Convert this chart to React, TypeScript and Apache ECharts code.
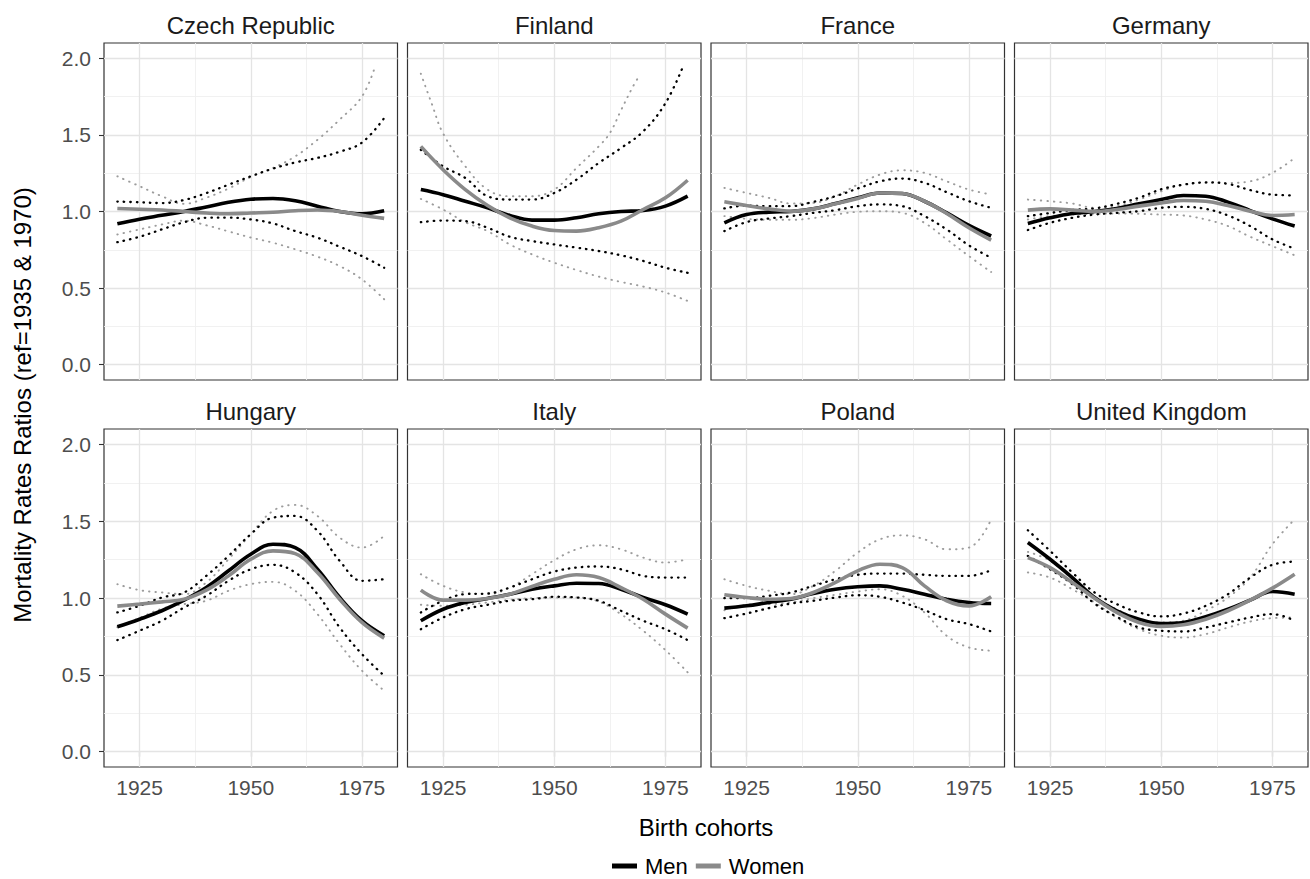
import React, { useEffect, useRef } from 'react';
import * as echarts from 'echarts';

// ---------- data ----------
const YEARS = [1920, 1925, 1930, 1935, 1940, 1945, 1950, 1955, 1960, 1965, 1970, 1975, 1980];
const COUNTRIES = ['Czech Republic', 'Finland', 'France', 'Germany', 'Hungary', 'Italy', 'Poland', 'United Kingdom'];

const X_MAJOR = [1925, 1950, 1975];
const X_MINOR = [1937.5, 1962.5];
const Y_MAJOR = [0, 0.5, 1, 1.5, 2];
const Y_MINOR = [0.25, 0.75, 1.25, 1.75];

// Czech Republic
const CZ_MEN = [0.92, 0.95, 0.975, 1.0, 1.03, 1.06, 1.08, 1.085, 1.07, 1.035, 1.0, 0.985, 1.005];
const CZ_WOMEN = [1.02, 1.015, 1.01, 1.0, 0.99, 0.985, 0.99, 0.995, 1.005, 1.01, 1.0, 0.975, 0.955];
const CZ_MEN_HI = [1.065, 1.06, 1.055, 1.075, 1.12, 1.175, 1.23, 1.28, 1.32, 1.35, 1.39, 1.45, 1.61];
const CZ_MEN_LO = [0.8, 0.835, 0.883, 0.93, 0.959, 0.96, 0.948, 0.922, 0.872, 0.829, 0.77, 0.709, 0.633];
const CZ_WOMEN_HI_YEARS = [1920, 1925, 1930, 1935, 1940, 1945, 1950, 1955, 1960, 1965, 1970, 1975, 1978];
const CZ_WOMEN_HI = [1.23, 1.165, 1.1, 1.05, 1.09, 1.15, 1.225, 1.284, 1.36, 1.468, 1.6, 1.75, 1.95];
const CZ_WOMEN_LO = [0.85, 0.883, 0.915, 0.94, 0.91, 0.87, 0.83, 0.796, 0.753, 0.705, 0.644, 0.557, 0.427];

// Finland
const FI_MEN = [1.143, 1.11, 1.067, 1.024, 0.974, 0.944, 0.944, 0.959, 0.985, 1.0, 1.006, 1.035, 1.1];
const FI_WOMEN = [1.425, 1.273, 1.143, 1.039, 0.959, 0.905, 0.876, 0.872, 0.894, 0.937, 1.013, 1.089, 1.204];
const FI_MEN_HI_YEARS = [1920, 1925, 1930, 1935, 1940, 1945, 1950, 1955, 1960, 1965, 1970, 1975, 1979];
const FI_MEN_HI = [1.403, 1.295, 1.219, 1.1, 1.078, 1.078, 1.121, 1.208, 1.317, 1.414, 1.523, 1.707, 1.95];
const FI_MEN_LO = [0.93, 0.941, 0.937, 0.894, 0.835, 0.807, 0.785, 0.764, 0.742, 0.714, 0.677, 0.633, 0.6];
const FI_WOMEN_HI_YEARS = [1920, 1922.5, 1925, 1930, 1935, 1940, 1945, 1950, 1955, 1960, 1962.5, 1965, 1967.5, 1969];
const FI_WOMEN_HI = [1.9, 1.7, 1.51, 1.295, 1.143, 1.1, 1.1, 1.143, 1.284, 1.425, 1.512, 1.66, 1.805, 1.88];
const FI_WOMEN_LO = [1.082, 1.013, 0.93, 0.872, 0.785, 0.72, 0.666, 0.618, 0.575, 0.54, 0.51, 0.471, 0.416];

// France
const FR_MEN = [0.926, 0.98, 0.996, 1.0, 1.017, 1.052, 1.089, 1.121, 1.117, 1.067, 0.991, 0.909, 0.84];
const FR_WOMEN = [1.063, 1.039, 1.017, 1.002, 1.017, 1.05, 1.085, 1.121, 1.117, 1.067, 0.987, 0.894, 0.813];
const FR_MEN_HI = [1.02, 1.039, 1.035, 1.035, 1.063, 1.1, 1.15, 1.197, 1.215, 1.187, 1.126, 1.067, 1.024];
const FR_MEN_LO = [0.872, 0.931, 0.954, 0.97, 0.991, 1.009, 1.035, 1.046, 1.035, 0.97, 0.883, 0.779, 0.698];
const FR_WOMEN_HI = [1.154, 1.121, 1.089, 1.052, 1.056, 1.1, 1.176, 1.241, 1.269, 1.252, 1.197, 1.143, 1.111];
const FR_WOMEN_LO = [0.97, 0.952, 0.946, 0.946, 0.957, 0.98, 0.998, 1.002, 0.991, 0.926, 0.818, 0.709, 0.605];

// Germany
const DE_MEN = [0.922, 0.959, 0.987, 1.0, 1.02, 1.05, 1.078, 1.104, 1.1, 1.061, 1.006, 0.952, 0.905];
const DE_WOMEN = [1.009, 1.017, 1.009, 1.0, 1.013, 1.035, 1.056, 1.072, 1.067, 1.039, 1.002, 0.974, 0.98];
const DE_MEN_HI = [0.97, 0.99, 1.01, 1.02, 1.05, 1.09, 1.145, 1.175, 1.19, 1.18, 1.14, 1.11, 1.105];
const DE_MEN_LO = [0.879, 0.926, 0.959, 0.98, 0.991, 1.002, 1.024, 1.03, 1.017, 0.974, 0.905, 0.818, 0.757];
const DE_WOMEN_HI = [1.078, 1.067, 1.052, 1.024, 1.035, 1.078, 1.132, 1.176, 1.187, 1.187, 1.197, 1.252, 1.349];
const DE_WOMEN_LO = [0.948, 0.97, 0.98, 0.985, 0.987, 0.985, 0.98, 0.974, 0.948, 0.905, 0.835, 0.774, 0.714];

// Hungary
const HU_MEN = [0.813, 0.862, 0.917, 0.986, 1.068, 1.177, 1.285, 1.35, 1.328, 1.187, 1.003, 0.852, 0.754];
const HU_WOMEN = [0.947, 0.96, 0.975, 0.992, 1.051, 1.144, 1.252, 1.307, 1.289, 1.166, 0.992, 0.841, 0.739];
const HU_MEN_HI = [0.906, 0.949, 1.003, 1.036, 1.144, 1.274, 1.415, 1.523, 1.534, 1.437, 1.242, 1.112, 1.122];
const HU_MEN_LO = [0.726, 0.787, 0.852, 0.938, 1.014, 1.112, 1.187, 1.216, 1.166, 1.025, 0.808, 0.635, 0.494];
const HU_WOMEN_HI = [1.09, 1.051, 1.036, 1.025, 1.101, 1.252, 1.415, 1.567, 1.606, 1.534, 1.393, 1.328, 1.404];
const HU_WOMEN_LO = [0.81, 0.87, 0.93, 0.96, 0.982, 1.047, 1.09, 1.105, 1.047, 0.895, 0.7, 0.527, 0.397];

// Italy
const IT_MEN = [0.852, 0.927, 0.971, 0.997, 1.025, 1.057, 1.079, 1.096, 1.094, 1.057, 1.003, 0.956, 0.895];
const IT_WOMEN = [1.051, 0.986, 0.986, 0.997, 1.025, 1.075, 1.122, 1.151, 1.133, 1.068, 0.992, 0.895, 0.804];
const IT_MEN_HI = [0.906, 0.982, 1.025, 1.029, 1.068, 1.122, 1.172, 1.198, 1.205, 1.187, 1.144, 1.133, 1.133];
const IT_MEN_LO = [0.797, 0.873, 0.927, 0.956, 0.982, 0.992, 1.008, 1.003, 0.982, 0.917, 0.852, 0.797, 0.726];
const IT_WOMEN_HI = [1.155, 1.079, 1.036, 1.025, 1.068, 1.155, 1.246, 1.317, 1.343, 1.317, 1.263, 1.231, 1.252];
const IT_WOMEN_LO = [0.956, 0.949, 0.956, 0.971, 0.988, 0.999, 1.003, 1.003, 0.977, 0.895, 0.787, 0.661, 0.516];

// Poland
const PL_MEN = [0.934, 0.949, 0.971, 0.992, 1.029, 1.057, 1.073, 1.079, 1.057, 1.025, 0.992, 0.971, 0.964];
const PL_WOMEN = [1.021, 1.003, 0.992, 0.997, 1.036, 1.101, 1.177, 1.22, 1.198, 1.079, 0.982, 0.949, 1.008];
const PL_MEN_HI = [0.999, 0.999, 1.014, 1.036, 1.079, 1.122, 1.151, 1.159, 1.159, 1.151, 1.144, 1.144, 1.181];
const PL_MEN_LO = [0.869, 0.899, 0.934, 0.964, 0.982, 1.003, 1.018, 1.008, 0.971, 0.921, 0.862, 0.83, 0.782];
const PL_WOMEN_HI = [1.122, 1.079, 1.047, 1.025, 1.079, 1.177, 1.296, 1.382, 1.408, 1.382, 1.317, 1.328, 1.512];
const PL_WOMEN_LO = [0.92, 0.956, 0.96, 0.971, 0.999, 1.021, 1.042, 1.057, 1.014, 0.906, 0.754, 0.678, 0.657];

// United Kingdom
const UK_MEN = [1.361, 1.252, 1.133, 1.003, 0.917, 0.862, 0.834, 0.841, 0.878, 0.927, 0.986, 1.042, 1.025];
const UK_WOMEN = [1.263, 1.198, 1.101, 0.999, 0.906, 0.841, 0.815, 0.826, 0.862, 0.917, 0.986, 1.064, 1.155];
const UK_MEN_HI = [1.441, 1.307, 1.166, 1.036, 0.96, 0.906, 0.88, 0.899, 0.949, 1.025, 1.133, 1.216, 1.237];
const UK_MEN_LO = [1.274, 1.187, 1.09, 0.964, 0.878, 0.808, 0.787, 0.782, 0.808, 0.841, 0.873, 0.895, 0.852];
const UK_WOMEN_HI = [1.3, 1.242, 1.122, 1.003, 0.927, 0.862, 0.841, 0.852, 0.917, 1.003, 1.133, 1.35, 1.512];
const UK_WOMEN_LO = [1.166, 1.133, 1.057, 0.971, 0.873, 0.797, 0.754, 0.743, 0.765, 0.808, 0.847, 0.869, 0.873];

// ---------- layout / style ----------
const FONT = "'Liberation Sans', Arial, Helvetica, sans-serif";
const COL_LEFT = [104, 407.5, 711, 1014.5];
const PANEL_W = 293.5;
const ROW_TOP = [43, 429];
const PANEL_H = [337, 338];
const X_MIN = 1917;
const X_MAX = 1983;
const Y_MIN = -0.1;
const Y_MAX = 2.1;

const MEN_COLOR = '#000000';
const WOMEN_COLOR = '#8a8a8a';
const WOMEN_CI_COLOR = '#9c9c9c';

type Panel = {
  men: number[]; women: number[];
  menHi: number[]; menHiYears?: number[];
  menLo: number[];
  womenHi: number[]; womenHiYears?: number[];
  womenLo: number[];
};

const PANELS: Panel[] = [
  { men: CZ_MEN, women: CZ_WOMEN, menHi: CZ_MEN_HI, menLo: CZ_MEN_LO, womenHi: CZ_WOMEN_HI, womenHiYears: CZ_WOMEN_HI_YEARS, womenLo: CZ_WOMEN_LO },
  { men: FI_MEN, women: FI_WOMEN, menHi: FI_MEN_HI, menHiYears: FI_MEN_HI_YEARS, menLo: FI_MEN_LO, womenHi: FI_WOMEN_HI, womenHiYears: FI_WOMEN_HI_YEARS, womenLo: FI_WOMEN_LO },
  { men: FR_MEN, women: FR_WOMEN, menHi: FR_MEN_HI, menLo: FR_MEN_LO, womenHi: FR_WOMEN_HI, womenLo: FR_WOMEN_LO },
  { men: DE_MEN, women: DE_WOMEN, menHi: DE_MEN_HI, menLo: DE_MEN_LO, womenHi: DE_WOMEN_HI, womenLo: DE_WOMEN_LO },
  { men: HU_MEN, women: HU_WOMEN, menHi: HU_MEN_HI, menLo: HU_MEN_LO, womenHi: HU_WOMEN_HI, womenLo: HU_WOMEN_LO },
  { men: IT_MEN, women: IT_WOMEN, menHi: IT_MEN_HI, menLo: IT_MEN_LO, womenHi: IT_WOMEN_HI, womenLo: IT_WOMEN_LO },
  { men: PL_MEN, women: PL_WOMEN, menHi: PL_MEN_HI, menLo: PL_MEN_LO, womenHi: PL_WOMEN_HI, womenLo: PL_WOMEN_LO },
  { men: UK_MEN, women: UK_WOMEN, menHi: UK_MEN_HI, menLo: UK_MEN_LO, womenHi: UK_WOMEN_HI, womenLo: UK_WOMEN_LO },
];

const pairs = (years: number[], vals: number[]) => vals.map((v, i) => [years[i], v]);

function buildOption() {
  const grid: any[] = [];
  const xAxis: any[] = [];
  const yAxis: any[] = [];
  const series: any[] = [];
  const graphic: any[] = [];

  PANELS.forEach((p, i) => {
    const row = Math.floor(i / 4);
    const col = i % 4;
    const left = COL_LEFT[col];
    const top = ROW_TOP[row];
    const h = PANEL_H[row];
    grid.push({
      left, top, width: PANEL_W, height: h,
      show: true, backgroundColor: '#ffffff', borderColor: '#333333', borderWidth: 1.2,
      containLabel: false,
    });
    xAxis.push({
      gridIndex: i, type: 'value', min: X_MIN, max: X_MAX,
      axisLine: { show: false },
      axisTick: { show: row === 1, customValues: X_MAJOR, length: 5, lineStyle: { color: '#333333', width: 1.1 } },
      axisLabel: {
        show: row === 1, customValues: X_MAJOR, margin: 10,
        fontSize: 21, color: '#4d4d4d', fontFamily: FONT,
        formatter: (v: number) => String(v),
      },
      splitLine: { show: false },
    });
    yAxis.push({
      gridIndex: i, type: 'value', min: Y_MIN, max: Y_MAX,
      axisLine: { show: false },
      axisTick: { show: col === 0, customValues: Y_MAJOR, length: 5, lineStyle: { color: '#333333', width: 1.1 } },
      axisLabel: {
        show: col === 0, customValues: Y_MAJOR, margin: 13,
        fontSize: 21, color: '#4d4d4d', fontFamily: FONT,
        formatter: (v: number) => v.toFixed(1),
      },
      splitLine: { show: false },
    });

    const major = { color: '#e4e4e4', width: 1.3, type: 'solid' };
    const minor = { color: '#efefef', width: 0.9, type: 'solid' };
    const mlData: any[] = [];
    Y_MINOR.forEach((v) => mlData.push({ yAxis: v, lineStyle: minor }));
    X_MINOR.forEach((v) => mlData.push({ xAxis: v, lineStyle: minor }));
    Y_MAJOR.forEach((v) => mlData.push({ yAxis: v, lineStyle: major }));
    X_MAJOR.forEach((v) => mlData.push({ xAxis: v, lineStyle: major }));

    series.push({
      name: 'grid' + i, type: 'line', xAxisIndex: i, yAxisIndex: i,
      data: [], silent: true, showSymbol: false, z: 1,
      markLine: { silent: true, symbol: ['none', 'none'], label: { show: false }, animation: false, z: 1, data: mlData },
    });

    const dotted = (name: string, data: any[], color: string, width: number) => ({
      name, type: 'line', xAxisIndex: i, yAxisIndex: i, data,
      smooth: 0.4, showSymbol: false, silent: true, z: 3,
      lineStyle: { color, width, type: [0.5, 6], cap: 'round' },
      itemStyle: { color },
    });

    series.push(dotted('Women CI', pairs(p.womenHiYears || YEARS, p.womenHi), WOMEN_CI_COLOR, 1.9));
    series.push(dotted('Women CI', pairs(YEARS, p.womenLo), WOMEN_CI_COLOR, 1.9));
    series.push(dotted('Men CI', pairs(p.menHiYears || YEARS, p.menHi), MEN_COLOR, 2.3));
    series.push(dotted('Men CI', pairs(YEARS, p.menLo), MEN_COLOR, 2.3));

    series.push({
      name: 'Men', type: 'line', xAxisIndex: i, yAxisIndex: i, data: pairs(YEARS, p.men),
      smooth: 0.4, showSymbol: false, z: 4,
      lineStyle: { color: MEN_COLOR, width: 3.6 }, itemStyle: { color: MEN_COLOR },
    });
    series.push({
      name: 'Women', type: 'line', xAxisIndex: i, yAxisIndex: i, data: pairs(YEARS, p.women),
      smooth: 0.4, showSymbol: false, z: 5,
      lineStyle: { color: WOMEN_COLOR, width: 3.6 }, itemStyle: { color: WOMEN_COLOR },
    });

    graphic.push({
      type: 'text', x: left + PANEL_W / 2, y: top - 17.5, silent: true,
      style: { text: COUNTRIES[i], textAlign: 'center', textVerticalAlign: 'middle', fontSize: 24, fontFamily: FONT, fill: '#1a1a1a' },
    });
  });

  graphic.push({
    type: 'text', x: 22, y: 405, rotation: Math.PI / 2, silent: true,
    style: { text: 'Mortality Rates Ratios (ref=1935 & 1970)', textAlign: 'center', textVerticalAlign: 'middle', fontSize: 24, fontFamily: FONT, fill: '#000000' },
  });
  graphic.push({
    type: 'text', x: (COL_LEFT[0] + COL_LEFT[3] + PANEL_W) / 2, y: 827, silent: true,
    style: { text: 'Birth cohorts', textAlign: 'center', textVerticalAlign: 'middle', fontSize: 24, fontFamily: FONT, fill: '#000000' },
  });

  return {
    animation: false,
    backgroundColor: '#ffffff',
    textStyle: { fontFamily: FONT },
    grid, xAxis, yAxis, series, graphic,
    legend: {
      data: [{ name: 'Men', icon: 'rect' }, { name: 'Women', icon: 'rect' }],
      left: 612, top: 855, padding: 0,
      itemWidth: 25, itemHeight: 5, itemGap: 8,
      selectedMode: false,
      textStyle: { fontSize: 22, color: '#000000', fontFamily: FONT, padding: [0, 0, 0, 3] },
    },
  };
}

export default function App() {
  const ref = useRef<HTMLDivElement>(null);
  useEffect(() => {
    if (!ref.current) return;
    const chart = echarts.init(ref.current, undefined, { renderer: 'svg' });
    chart.setOption(buildOption() as any);
    return () => chart.dispose();
  }, []);
  return <div ref={ref} style={{ position: 'absolute', left: 0, top: 0, width: 1310, height: 879, background: '#fff' }} />;
}
